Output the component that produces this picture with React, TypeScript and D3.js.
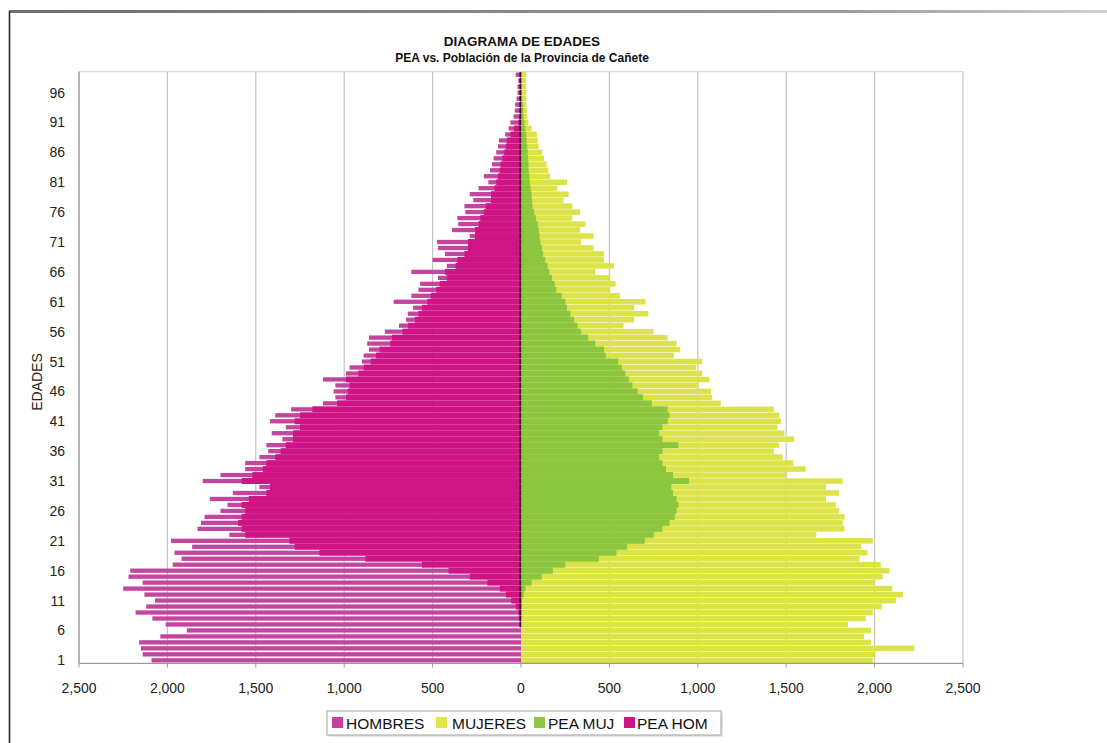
import React from "react";
import * as d3 from "d3";

// ---- data ----
const ages: number[] = d3.range(1, 100);
const ageTicks: number[] = d3.range(1, 100, 5);
const xTicks: number[] = [-2500, -2000, -1500, -1000, -500, 0, 500, 1000, 1500, 2000, 2500];

const hombres: number[] = [
  2090, 2140, 2150, 2160, 2040, 1890, 2010, 2085, 2180, 2120,
  2070, 2130, 2250, 2140, 2220, 2210, 1970, 1920, 1960, 1860,
  1980, 1650, 1830, 1810, 1790, 1700, 1660, 1760, 1630, 1480,
  1800, 1700, 1560, 1560, 1480, 1430, 1440, 1350, 1410, 1330,
  1420, 1390, 1300, 1120, 1050, 1060, 1050, 1120, 990, 970,
  900, 890, 860, 870, 860, 770, 690, 650, 640, 610,
  720, 620, 580, 570, 470, 620, 420, 500, 430, 470,
  475, 290, 390, 355, 360, 315, 320, 270, 290, 240,
  185, 210, 175, 165, 155, 140, 130, 125, 90, 70,
  60, 42, 35, 33, 25, 20, 20, 15, 30,
];

const peaHom: number[] = [
  0, 0, 0, 0, 0, 0, 3, 8, 15, 30,
  55, 85, 120, 190, 290, 410, 560, 880, 1140, 1280,
  1310, 1560, 1580, 1600, 1580, 1560, 1580, 1540, 1440, 1420,
  1580, 1520, 1460, 1440, 1390, 1360, 1330, 1290, 1290, 1250,
  1280, 1250, 1180, 1040, 990, 980, 970, 990, 920, 890,
  850, 820, 800, 740, 730, 670, 640, 600, 580, 560,
  530, 510, 480, 460, 420, 430, 370, 360, 320, 300,
  300, 260, 260, 240, 230, 210, 200, 170, 170, 150,
  140, 130, 120, 115, 105, 95, 85, 80, 60, 40,
  15, 8, 5, 4, 3, 2, 2, 1, 1,
];

const mujeres: number[] = [
  1990, 2000, 2225, 1980, 1940, 1980, 1850, 1950, 1990, 2040,
  2120, 2160, 2100, 2000, 2045, 2085, 2035, 1915, 1960, 1925,
  1990, 1670, 1830, 1820, 1830, 1800, 1780, 1725, 1800, 1725,
  1820, 1500, 1610, 1540, 1480, 1430, 1460, 1545, 1490, 1450,
  1470, 1460, 1430, 1130, 1080, 1075, 1005, 1065, 1025, 990,
  1025, 865, 900, 880, 830, 750, 580, 640, 720, 640,
  705, 560, 505, 535, 505, 420, 525, 470, 470, 410,
  340, 410, 335, 365, 290, 335, 290, 240, 270, 205,
  260, 165, 155, 145, 130, 120, 100, 95, 90, 60,
  42, 35, 33, 30, 30, 30, 28, 28, 30,
];

const peaMuj: number[] = [
  0, 0, 0, 0, 0, 0, 0, 2, 3, 4,
  5, 15, 25, 60, 117, 180, 250, 440, 540, 600,
  700, 750, 800, 840, 870, 880, 890, 880, 860, 850,
  950, 860, 820, 800, 780, 800, 890, 800, 780, 800,
  830, 840, 830, 740, 690, 660, 630, 610, 590, 570,
  550, 480, 470, 420, 380, 340, 320, 300, 280, 260,
  250, 230, 200, 190, 175, 160, 150, 137, 125, 118,
  110, 105, 100, 95, 85, 75, 65, 62, 60, 55,
  50, 47, 43, 42, 40, 38, 35, 32, 30, 25,
  20, 15, 12, 10, 8, 6, 5, 4, 3,
];

const legendItems = [
  { label: "HOMBRES", color: "#c2409e" },
  { label: "MUJERES", color: "#dde44c" },
  { label: "PEA MUJ", color: "#8dc63f" },
  { label: "PEA HOM", color: "#cc1488" },
];

const FONT = "'Liberation Sans', Arial, sans-serif";

export default function App() {
  const W = 1107;
  const H = 743;
  const x = d3.scaleLinear().domain([-2500, 2500]).range([79, 963]);
  const y = d3.scaleBand<number>().domain(ages).range([663.3, 71.7]).padding(0);
  const bw = y.bandwidth();
  const x0 = x(0);
  const fmt = d3.format(",");

  const legendX = [332, 436, 534, 624];
  const legendTextX = [346, 452, 548, 637];

  return (
    <svg
      width={W}
      height={H}
      style={{ position: "absolute", left: 0, top: 0, background: "#fff" }}
      fontFamily={FONT}
    >
      <defs>
        <linearGradient id="topline" x1="0" x2="1" y1="0" y2="0">
          <stop offset="0" stopColor="#6e6e6e" />
          <stop offset="0.75" stopColor="#9a9a9a" />
          <stop offset="1" stopColor="#d0d0d0" />
        </linearGradient>
      </defs>
      <rect x={0} y={0} width={W} height={H} fill="#fff" />
      {/* frame */}
      <rect x={9} y={10} width={W - 9} height={3} fill="url(#topline)" />
      <line x1={9.5} y1={11} x2={9.5} y2={H} stroke="#2a2a2a" strokeWidth={1.6} />

      {/* title */}
      <text x={522} y={46} textAnchor="middle" fontWeight="bold" fontSize={13.5} fill="#111">
        DIAGRAMA DE EDADES
      </text>
      <text x={522} y={62} textAnchor="middle" fontWeight="bold" fontSize={12} fill="#111">
        PEA vs. Población de la Provincia de Cañete
      </text>

      {/* plot border top */}
      <line x1={79} x2={963} y1={71.7} y2={71.7} stroke="#d0d0d0" strokeWidth={1} />
      {/* gridlines */}
      {xTicks.map((t) => (
        <line key={"g" + t} x1={x(t)} x2={x(t)} y1={71.7} y2={663.3} stroke="#c4c4c4" strokeWidth={1.2} />
      ))}

      {/* HOMBRES */}
      {ages.map((a, i) => (
        <rect
          key={"h" + a}
          x={x(-hombres[i])}
          y={(y(a) as number) + bw * 0.14}
          width={x0 - x(-hombres[i])}
          height={bw * 0.72}
          fill="#c4449f"
        />
      ))}
      {/* MUJERES */}
      {ages.map((a, i) => (
        <rect
          key={"m" + a}
          x={x0}
          y={(y(a) as number) + bw * 0.04}
          width={x(mujeres[i]) - x0}
          height={bw * 0.92}
          fill="#dce347"
        />
      ))}
      {/* PEA MUJ */}
      {ages.map((a, i) => (
        <rect
          key={"pm" + a}
          x={x0}
          y={y(a) as number}
          width={x(peaMuj[i]) - x0}
          height={bw}
          fill="#8cc63e"
        />
      ))}
      {/* PEA HOM */}
      {ages.map((a, i) => (
        <rect
          key={"ph" + a}
          x={x(-peaHom[i])}
          y={y(a) as number}
          width={x0 - x(-peaHom[i])}
          height={bw}
          fill="#cf1486"
        />
      ))}
      {/* dark edge of PEA HOM bars at zero */}
      {ages.map((a, i) =>
        peaHom[i] > 0 ? (
          <rect key={"pe" + a} x={x0 - 1.6} y={(y(a) as number) + 0.5} width={1.8} height={bw - 1} fill="#3b0a22" />
        ) : null
      )}

      {/* axes */}
      <line x1={79} x2={79} y1={71.7} y2={663.3} stroke="#9a9a9a" strokeWidth={1.2} />
      <line x1={79} x2={963} y1={663.3} y2={663.3} stroke="#9a9a9a" strokeWidth={1.2} />
      {xTicks.map((t) => (
        <line key={"t" + t} x1={x(t)} x2={x(t)} y1={663.3} y2={667.5} stroke="#9a9a9a" strokeWidth={1} />
      ))}
      {xTicks.map((t) => (
        <text key={"xl" + t} x={x(t)} y={693} textAnchor="middle" fontSize={14} fill="#222">
          {fmt(Math.abs(t))}
        </text>
      ))}
      {ageTicks.map((a) => (
        <text
          key={"yl" + a}
          x={65}
          y={(y(a) as number) + bw / 2 + 5}
          textAnchor="end"
          fontSize={14}
          fill="#222"
        >
          {a}
        </text>
      ))}
      <text
        transform={`translate(42,382) rotate(-90)`}
        textAnchor="middle"
        fontSize={14}
        fill="#222"
      >
        EDADES
      </text>

      {/* legend */}
      <rect x={329} y={713} width={394} height={24} fill="#e6e6e6" />
      <rect x={327} y={711} width={394} height={24} fill="#fff" stroke="#a0a0a0" strokeWidth={1} />
      {legendItems.map((it, i) => (
        <g key={it.label}>
          <rect x={legendX[i]} y={717} width={11} height={11} fill={it.color} />
          <text x={legendTextX[i]} y={728.5} fontSize={15.5} fill="#111">
            {it.label}
          </text>
        </g>
      ))}
    </svg>
  );
}
